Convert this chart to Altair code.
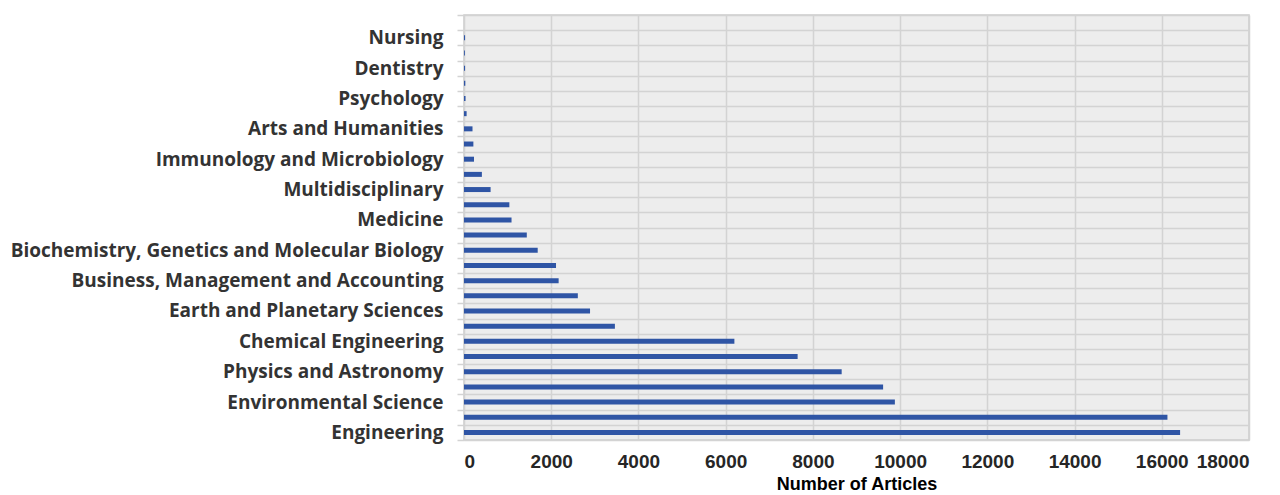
import altair as alt
import pandas as pd

# Categories from bottom (largest) to top
categories = [
    "Engineering", "Energy", "Environmental Science", "Computer Science",
    "Physics and Astronomy", "Materials Science", "Chemical Engineering",
    "Mathematics", "Earth and Planetary Sciences", "Chemistry",
    "Business, Management and Accounting", "Social Sciences",
    "Biochemistry, Genetics and Molecular Biology", "Decision Sciences",
    "Medicine", "Agricultural and Biological Sciences", "Multidisciplinary",
    "Economics, Econometrics and Finance", "Immunology and Microbiology",
    "Pharmacology, Toxicology and Pharmaceutics", "Arts and Humanities",
    "Health Professions", "Psychology", "Neuroscience", "Dentistry",
    "Veterinary", "Nursing", "Undefined",
]
articles = [
    16420, 16130, 9880, 9610, 8660, 7650, 6200, 3460, 2890, 2610,
    2170, 2110, 1690, 1440, 1090, 1040, 610, 410, 230, 215,
    195, 60, 35, 30, 25, 20, 25, 0,
]
labeled = categories[0::2]
x_ticks = [0, 2000, 4000, 6000, 8000, 10000, 12000, 14000, 16000, 18000]

df = pd.DataFrame({"Category": categories, "Articles": articles})

label_list = "[" + ",".join("'" + c.replace("'", "\\'") + "'" for c in labeled) + "]"

chart = alt.Chart(df).mark_bar(
    size=5, color="#2F55A5"
).encode(
    x=alt.X(
        "Articles:Q",
        scale=alt.Scale(domain=[0, 18000], nice=False),
        axis=alt.Axis(
            values=x_ticks, format="d", title="Number of Articles", grid=True,
            gridColor="#D3D3D3", gridWidth=1.5, ticks=False, domain=False,
            labelFont="Liberation Sans", labelFontSize=19, labelFontWeight="bold",
            labelColor="#262626", labelPadding=12,
            titleFont="Liberation Sans", titleFontSize=18, titleFontWeight="bold",
            titleColor="#000000", titlePadding=4,
        ),
    ),
    y=alt.Y(
        "Category:N",
        sort=list(reversed(categories)),
        scale=alt.Scale(paddingInner=0, paddingOuter=0),
        axis=alt.Axis(
            title=None, tickBand="extent", grid=True, gridColor="#D3D3D3",
            gridWidth=1.5, ticks=True, tickSize=7, tickColor="#D3D3D3",
            tickWidth=1.5, domain=False,
            labelExpr="indexof(" + label_list + ", datum.value) >= 0 ? datum.value : ''",
            labelFont="Open Sans", labelFontSize=19, labelFontWeight="bold",
            labelColor="#333333", labelPadding=14, labelLimit=600,
        ),
    ),
).properties(
    width=785, height=425,
    background="white",
    autosize=alt.AutoSizeParams(type="none"),
    padding={"left": 456, "top": 7, "right": 20, "bottom": 55},
).configure_view(
    fill="#EDEDED", stroke="#CCCCCC", strokeWidth=1.5
)

chart.save("out.html", embed_options={"renderer": "svg", "actions": False})
